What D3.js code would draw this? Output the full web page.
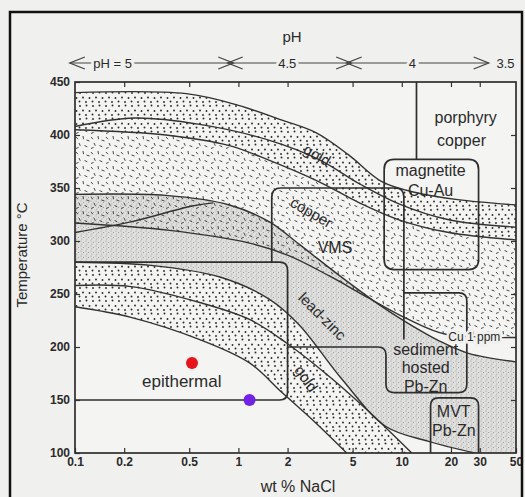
<!DOCTYPE html>
<meta charset="utf-8">
<script src="https://d3js.org/d3.v7.min.js"></script>
<style>
  body{margin:0;background:#f0f0ee;}
  svg text{font-family:"Liberation Sans",Arial,sans-serif;fill:#2a2a2a;}
</style>
<div id="chart"></div>
<script>

// axis ticks
var xTicks = [0.1,0.2,0.5,1,2,5,10,20,30,50]
var yTicks = [100,150,200,250,300,350,400,450]

// band boundaries, [wt % NaCl, temperature °C]
var goldTop   = [[0.1,440],[0.48,439],[1.0,428],[1.85,414],[3.0,402],[4.75,381],[7.55,356],[12.7,345],[22,339],[50,334]]
var goldMid   = [[0.1,408],[0.23,416],[0.58,410],[1.55,395],[3.1,377],[5.5,354],[9.6,335],[19.4,320],[50,313]]
var goldBot   = [[0.1,405],[0.36,400],[0.88,390],[1.55,376],[3.1,356],[5.5,336],[9.6,320],[19.4,308],[50,301]]
var cuBot     = [[0.1,317],[0.38,310],[1.17,298],[2.05,286],[3.6,267],[6.3,246],[11,226],[18.6,212],[50,209]]
var pbznTop   = [[0.1,344],[0.36,343],[0.88,334],[1.55,318],[2.35,297],[4.1,268],[7.25,240],[11,222],[16.8,206],[25.6,194],[50,186]]
var pbznBot   = [[0.1,280],[0.29,277],[0.77,266],[1.55,245],[2.35,221],[4.28,170],[8,125],[14.6,111],[28,100]]
var innerLine = [[0.1,308],[0.22,318],[0.52,333],[0.7,336]]
var gold2Edge = [[0.1,280],[0.29,277],[0.77,266],[1.55,245],[2.6,210],[3.74,171],[6.6,136],[11.5,100]]
var gold2Top  = [[0.1,258],[0.22,257],[0.58,242],[1.17,226],[1.96,204],[3.74,170],[6.6,136],[11.5,100]]
var gold2Bot  = [[0.1,238],[0.22,228],[0.58,207],[1.17,185],[1.85,157],[2.9,130],[4.6,100]]

// deposit fields
var epithermal = [[0.1,280],[2,280],[2,150],[0.1,150]]
var vms        = [[1.6,280],[1.6,350],[10.3,350],[10.3,207]]
var sediment   = [[2,200],[8,200],[8,157],[25,157],[25,251],[10.3,251]]
var magnetite  = [[7.8,377],[29.5,377],[29.5,273],[7.8,273]]
var mvt        = [[15,100],[15,152],[29.5,152],[29.5,100]]
var porphyry   = [[12.3,450],[12.3,377]]

// samples
var samples = [[0.52,185,"#e8141c"],[1.17,150,"#7322e8"]]

// pH scale along the top
var phLabels = ["pH = 5","4.5","4","3.5"]
var phArrows = [[0.093,0.93],[0.86,4.9],[4.6,34]]
var phAt     = [0.17,1.99,11.6,38]

var W = 525, H = 497

var svg = d3.select("#chart").append("svg")
  .attr("width",W).attr("height",H)

svg.append("rect").attr("width",W).attr("height",H).attr("fill","#f0f0ee")

var x = d3.scaleLog().domain([0.1,50]).range([75,516])
var y = d3.scaleLinear().domain([100,450]).range([453,82])

var defs = svg.append("defs")
defs.append("clipPath").attr("id","plot").append("rect")
  .attr("x",x(0.1)).attr("y",y(450)).attr("width",x(50)-x(0.1)).attr("height",y(100)-y(450))

var pd = defs.append("pattern").attr("id","dots").attr("patternUnits","userSpaceOnUse").attr("width",13).attr("height",13)
;[[2,2],[8.5,1.5],[5,6.5],[11.5,7],[1.5,10.5],[8,11]].forEach(function(p){
  pd.append("circle").attr("cx",p[0]).attr("cy",p[1]).attr("r",0.95).attr("fill","#2a2a2a")
})
var pc = defs.append("pattern").attr("id","dash").attr("patternUnits","userSpaceOnUse").attr("width",15).attr("height",15)
;[[1,2,3,4.2],[8,1,8.5,4.2],[11.5,5,14.5,6],[4,8,5.3,10.8],[9.5,10.5,12.3,11.8],[1,13.5,3.6,12.4]].forEach(function(s){
  pc.append("line").attr("x1",s[0]).attr("y1",s[1]).attr("x2",s[2]).attr("y2",s[3])
    .attr("stroke","#333").attr("stroke-width",0.9)
})
var ps = defs.append("pattern").attr("id","stip").attr("patternUnits","userSpaceOnUse").attr("width",5).attr("height",5)
ps.append("rect").attr("width",5).attr("height",5).attr("fill","#dfdfdd")
;[[1,1],[3.5,2.5],[1.8,4]].forEach(function(p){
  ps.append("circle").attr("cx",p[0]).attr("cy",p[1]).attr("r",0.55).attr("fill","#959595")
})

var line = d3.line().x(function(d){return x(d[0])}).y(function(d){return y(d[1])})
  .curve(d3.curveCatmullRom.alpha(0.5))

function bandPath(top,bottom,corner){
  var a = line(top)
  var b = line(bottom.slice().reverse())
  var mid = corner ? corner.map(function(c){return "L"+x(c[0])+","+y(c[1])}).join("") : ""
  return a + mid + "L" + b.slice(1) + "Z"
}

var plot = svg.append("g").attr("clip-path","url(#plot)")
plot.append("rect").attr("x",x(0.1)).attr("y",y(450)).attr("width",x(50)-x(0.1)).attr("height",y(100)-y(450)).attr("fill","#f4f4f2")

plot.append("path").attr("d",bandPath(pbznTop,pbznBot,[[50,100]])).attr("fill","url(#stip)")
plot.append("path").attr("d",bandPath(goldBot,cuBot)).attr("fill","url(#dash)")
plot.append("path").attr("d",bandPath(goldTop,goldBot)).attr("fill","url(#dots)")
plot.append("path").attr("d",bandPath(gold2Edge,gold2Bot)).attr("fill","url(#dots)")

;[goldTop,goldMid,goldBot,cuBot,pbznTop,pbznBot,innerLine,gold2Top,gold2Bot].forEach(function(c){
  plot.append("path").attr("d",line(c)).attr("fill","none").attr("stroke","#333").attr("stroke-width",1.4)
})

// polyline with rounded corners
function roundPoly(pts,r,closed){
  var p = pts.map(function(d){return [x(d[0]),y(d[1])]})
  var n = p.length, s = ""
  function toward(a,b){
    var dx=b[0]-a[0], dy=b[1]-a[1], l=Math.sqrt(dx*dx+dy*dy)
    return [a[0]+dx/l*r, a[1]+dy/l*r]
  }
  if(closed){
    for(var i=0;i<n;i++){
      var v=p[i], a=toward(v,p[(i-1+n)%n]), b=toward(v,p[(i+1)%n])
      s += (i==0?"M":"L")+a+"Q"+v+" "+b
    }
    return s+"Z"
  }
  s = "M"+p[0]
  for(var i=1;i<n-1;i++){
    var v=p[i], a=toward(v,p[i-1]), b=toward(v,p[i+1])
    s += "L"+a+"Q"+v+" "+b
  }
  return s+"L"+p[n-1]
}

var boxes = plot.append("g").attr("fill","none").attr("stroke","#2e2e2e").attr("stroke-width",1.7)
boxes.append("path").attr("d",roundPoly(epithermal,8,false))
boxes.append("path").attr("d",roundPoly(vms,9,false))
boxes.append("path").attr("d",roundPoly(sediment,8,false))
boxes.append("path").attr("d",roundPoly(magnetite,10,true)).attr("fill","none")
boxes.append("path").attr("d",roundPoly(mvt,8,false))
boxes.append("path").attr("d",line(porphyry))

// field labels
function label(t,w,T,size,rot){
  var g = svg.append("text")
    .attr("transform","translate("+x(w)+","+y(T)+")"+(rot?" rotate("+rot+")":""))
    .attr("text-anchor","middle").attr("dy","0.35em")
    .attr("font-size",size).text(t)
  return g
}
label("porphyry",24.6,417,16)
label("copper",23.2,395,16)
label("magnetite",15,367,16)
label("Cu-Au",15,348,16)
label("VMS",3.9,294,16)
label("sediment",14,198,16)
label("hosted",14,181,16)
label("Pb-Zn",14,163,16)
label("MVT",20.8,139,16)
label("Pb-Zn",20.8,121,16)
label("epithermal",0.45,168,17)
label("gold",3.03,381,15,30)
label("copper",2.8,327,15,30)
label("lead-zinc",3.26,229,15,45)
label("gold",2.6,170,15,55)
label("Cu 1 ppm",27.8,210,12)
  .attr("stroke","#f0f0ee").attr("stroke-width",5).attr("paint-order","stroke")

svg.selectAll(".sample").data(samples).join("circle")
  .attr("cx",function(d){return x(d[0])}).attr("cy",function(d){return y(d[1])})
  .attr("r",6).attr("fill",function(d){return d[2]})

// axes
function styleAxis(g){
  g.select(".domain").remove()
  g.selectAll("line").attr("stroke","#333").attr("stroke-width",1.2)
  g.selectAll("text").attr("font-size",12).attr("font-weight","bold")
    .attr("font-family","'Liberation Sans',Arial,sans-serif").attr("fill","#3a3a3a")
}
svg.append("g").attr("transform","translate("+x(0.1)+",0)")
  .call(d3.axisLeft(y).tickValues(yTicks).tickSizeInner(-5).tickSizeOuter(0).tickPadding(5)).call(styleAxis)
svg.append("g").attr("transform","translate("+x(50)+",0)")
  .call(d3.axisRight(y).tickValues(yTicks.slice(1,-1)).tickSizeInner(-5).tickSizeOuter(0).tickFormat("")).call(styleAxis)
svg.append("g").attr("transform","translate(0,"+y(100)+")")
  .call(d3.axisBottom(x).tickValues(xTicks).tickFormat(function(d){return d}).tickSizeInner(-5).tickSizeOuter(0).tickPadding(4)).call(styleAxis)
svg.append("g").attr("transform","translate(0,"+y(450)+")")
  .call(d3.axisTop(x).tickValues(xTicks.slice(1,-1)).tickSizeInner(-5).tickSizeOuter(0).tickFormat("")).call(styleAxis)

svg.append("rect").attr("x",x(0.1)).attr("y",y(450)).attr("width",x(50)-x(0.1)).attr("height",y(100)-y(450))
  .attr("fill","none").attr("stroke","#2e2e2e").attr("stroke-width",1.7)

svg.append("text").attr("transform","translate(27,255) rotate(-90)").attr("text-anchor","middle")
  .attr("font-size",15).text("Temperature °C")
svg.append("text").attr("x",298).attr("y",492).attr("text-anchor","middle")
  .attr("font-size",16).text("wt % NaCl")

// pH arrows
var ay = 63
svg.append("text").attr("x",292).attr("y",42).attr("text-anchor","middle").attr("font-size",15).text("pH")
phArrows.forEach(function(a){
  var x0 = x(a[0]), x1 = x(a[1])
  svg.append("line").attr("x1",x0).attr("x2",x1).attr("y1",ay).attr("y2",ay).attr("stroke","#444").attr("stroke-width",1.2)
  svg.append("path").attr("d","M"+(x0+15)+","+(ay-6)+"L"+x0+","+ay+"L"+(x0+15)+","+(ay+6))
    .attr("fill","none").attr("stroke","#444").attr("stroke-width",1.3)
  svg.append("path").attr("d","M"+(x1-15)+","+(ay-6)+"L"+x1+","+ay+"L"+(x1-15)+","+(ay+6))
    .attr("fill","none").attr("stroke","#444").attr("stroke-width",1.3)
})
phLabels.forEach(function(t,i){
  svg.append("text").attr("x",x(phAt[i])).attr("y",ay).attr("dy","0.35em")
    .attr("text-anchor",i==3?"start":"middle").attr("font-size",13)
    .attr("stroke","#f0f0ee").attr("stroke-width",6).attr("paint-order","stroke")
    .text(t)
})

// page frame
svg.append("path").attr("d","M10,"+H+"V12H522V"+H).attr("fill","none").attr("stroke","#111").attr("stroke-width",2.5)

</script>
